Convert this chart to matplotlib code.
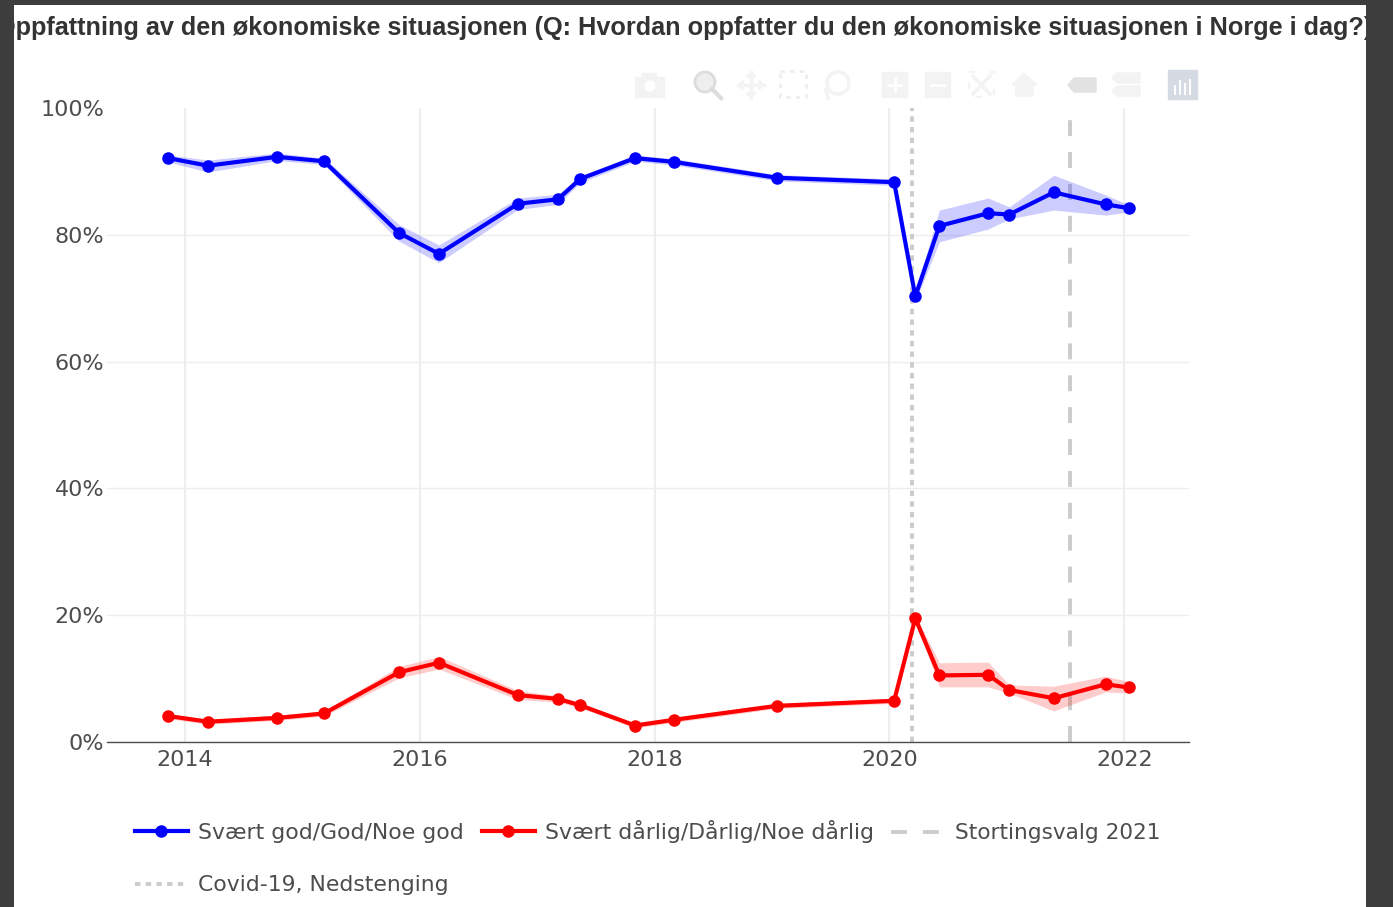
import matplotlib
matplotlib.use('Agg')
import matplotlib.pyplot as plt
from matplotlib.patches import Rectangle, Circle, Polygon
from matplotlib.lines import Line2D

# survey dates as decimal years
dates = [2013.855, 2014.196, 2014.784, 2015.184, 2015.823, 2016.163, 2016.836, 2017.177, 2017.365, 2017.833,
         2018.165, 2019.04, 2020.04, 2020.22, 2020.425, 2020.84, 2021.02, 2021.40, 2021.84, 2022.04]

good = [92.1, 90.9, 92.3, 91.6, 80.3, 77.0, 84.9, 85.6, 88.8, 92.1,
        91.5, 89.0, 88.3, 70.3, 81.4, 83.4, 83.2, 86.7, 84.8, 84.2]
good_hi = [92.6, 91.8, 92.9, 92.1, 81.6, 78.4, 85.8, 86.4, 89.3, 92.6,
           92.0, 89.5, 88.8, 71.0, 83.9, 85.8, 84.4, 89.4, 86.3, 84.7]
good_lo = [91.5, 89.9, 91.7, 91.1, 79.0, 75.6, 84.0, 84.8, 88.2, 91.6,
           91.0, 88.5, 87.8, 69.5, 78.9, 80.9, 82.5, 83.9, 83.1, 83.6]

bad = [4.1, 3.2, 3.8, 4.5, 11.0, 12.5, 7.4, 6.8, 5.8, 2.6,
       3.5, 5.7, 6.5, 19.5, 10.5, 10.6, 8.2, 6.9, 9.1, 8.6]
bad_hi = [4.5, 3.6, 4.2, 4.9, 11.9, 13.5, 8.1, 7.3, 6.2, 3.0,
          3.9, 6.1, 6.9, 20.0, 12.5, 12.6, 9.0, 8.8, 10.4, 9.5]
bad_lo = [3.7, 2.8, 3.4, 4.1, 10.1, 11.5, 6.7, 6.3, 5.4, 2.2,
          3.1, 5.3, 6.1, 19.0, 8.7, 8.7, 7.7, 4.9, 7.9, 7.7]

covid_date = 2020.195
election_date = 2021.535

year_ticks = [2014, 2016, 2018, 2020, 2022]
pct_ticks = [0, 20, 40, 60, 80, 100]

title = 'Oppfattning av den økonomiske situasjonen (Q: Hvordan oppfatter du den økonomiske situasjonen i Norge i dag?)'
label_good = 'Svært god/God/Noe god'
label_bad = 'Svært dårlig/Dårlig/Noe dårlig'
label_election = 'Stortingsvalg 2021'
label_covid = 'Covid-19, Nedstenging'

W, H = 1393, 907
GREY = '#4d4d4d'
VLINE = '#cccccc'
LW = 3.0
MS = 8
DASH = (4.1, 4.1)
DOT = (1.4, 1.35)

fig = plt.figure(figsize=(W / 100, H / 100), dpi=100, facecolor='#3d3d3d')

# white page behind the plot, in pixel coordinates
bg = fig.add_axes([0, 0, 1, 1], zorder=0)
bg.set_xlim(0, W)
bg.set_ylim(H, 0)
bg.axis('off')
panel = Rectangle((14, 5), 1352, 902, facecolor='white', edgecolor='none')
bg.add_patch(panel)

# plot area
ax = fig.add_axes([107 / W, 1 - 742 / H, (1189 - 107) / W, (742 - 108) / H], zorder=1)
ax.patch.set_alpha(0)
ax.set_xlim(2013.336, 2022.551)
ax.set_ylim(0, 100)
for s in ['top', 'left', 'right']:
    ax.spines[s].set_visible(False)
ax.spines['bottom'].set_color(GREY)
ax.spines['bottom'].set_linewidth(1)
ax.set_axisbelow(True)
ax.xaxis.grid(True, color='#eeeeee', linewidth=1.5)
ax.yaxis.grid(True, color='#eeeeee', linewidth=1.0)
ax.set_xticks(year_ticks)
ax.set_yticks(pct_ticks)
ax.set_yticklabels([f'{p}%' for p in pct_ticks])
ax.tick_params(length=0, labelsize=16, labelcolor=GREY)
ax.tick_params(axis='y', pad=2)
ax.tick_params(axis='x', pad=6)
ax.yaxis.get_gridlines()[-1].set_visible(False)

ax.axvline(covid_date, color=VLINE, linewidth=2.8, dashes=DOT, zorder=1)
ax.axvline(election_date, color=VLINE, linewidth=2.8, dashes=DASH, zorder=1)

ax.fill_between(dates, good_lo, good_hi, color='blue', alpha=0.2, linewidth=0, zorder=2)
ax.fill_between(dates, bad_lo, bad_hi, color='red', alpha=0.2, linewidth=0, zorder=2)
ax.plot(dates, good, color='blue', linewidth=LW, marker='o', markersize=MS, zorder=3, clip_on=False)
ax.plot(dates, bad, color='red', linewidth=LW, marker='o', markersize=MS, zorder=3, clip_on=False)

# overlay for title, legend and the faded toolbar
ov = fig.add_axes([0, 0, 1, 1], zorder=2)
ov.set_xlim(0, W)
ov.set_ylim(H, 0)
ov.axis('off')
ov.patch.set_alpha(0)

t = ov.text(684.5, 28, title, ha='center', va='center', fontsize=18.2, fontweight='bold',
            family='Liberation Sans', color='#333333', clip_on=True)
t.set_clip_path(panel)

# legend
ov.add_line(Line2D([135, 188], [831, 831], color='blue', linewidth=LW))
ov.add_line(Line2D([161], [831], color='blue', marker='o', markersize=MS))
ov.text(198, 839, label_good, va='baseline', fontsize=15.75, color=GREY)
ov.add_line(Line2D([482, 535], [831, 831], color='red', linewidth=LW))
ov.add_line(Line2D([508], [831], color='red', marker='o', markersize=MS))
ov.text(545, 839, label_bad, va='baseline', fontsize=15.75, color=GREY)
ov.add_line(Line2D([891, 944], [832, 832], color=VLINE, linewidth=2.8, dashes=DASH))
ov.text(955, 839, label_election, va='baseline', fontsize=15.6, color=GREY)
ov.add_line(Line2D([135, 188], [884, 884], color=VLINE, linewidth=2.8, dashes=DOT))
ov.text(198, 891, label_covid, va='baseline', fontsize=15.75, color=GREY)

# toolbar icons
ICON = '#f3f3f3'
ov.add_patch(Rectangle((635, 77), 29, 20, color=ICON))
ov.add_patch(Rectangle((642, 73), 14, 5, color=ICON))
ov.add_patch(Circle((650, 86), 5, color='white'))
ov.add_patch(Circle((705, 82), 10, facecolor='#eeeeee', edgecolor='#dcdcdc', linewidth=2))
ov.add_line(Line2D([712, 721], [89, 98], color='#dcdcdc', linewidth=3))
ov.add_line(Line2D([738, 764], [85, 85], color=ICON, linewidth=2.5))
ov.add_line(Line2D([751, 751], [72, 98], color=ICON, linewidth=2.5))
for (px, py), (a, b) in [((738, 85), (5, 5)), ((764, 85), (-5, 5)), ((751, 72), (5, 5)), ((751, 98), (5, -5))]:
    if py == 85:
        ov.add_patch(Polygon([(px, py), (px + a, py - b), (px + a, py + b)], color=ICON))
    else:
        ov.add_patch(Polygon([(px, py), (px - a, py + b), (px + a, py + b)], color=ICON))
ov.add_patch(Rectangle((780, 71), 26, 26, fill=False, edgecolor='#eeeeee', linewidth=2, linestyle=(0, (1.5, 2))))
ov.add_patch(Circle((838, 83), 11, fill=False, edgecolor=ICON, linewidth=2.5))
ov.add_line(Line2D([826, 828], [90, 98], color=ICON, linewidth=2.5))
for cx in [894, 937]:
    ov.add_patch(Rectangle((cx - 12, 72), 25, 25, color=ICON))
    ov.add_line(Line2D([cx - 6, cx + 7], [85, 85], color='white', linewidth=2))
ov.add_line(Line2D([894.5, 894.5], [78, 91], color='white', linewidth=2))
ov.add_patch(Rectangle((969, 72), 25, 25, fill=False, edgecolor=ICON, linewidth=1.5, linestyle=(0, (3, 7))))
ov.add_line(Line2D([973, 990], [76, 94], color=ICON, linewidth=2.5))
ov.add_line(Line2D([990, 973], [76, 94], color=ICON, linewidth=2.5))
ov.add_patch(Polygon([(1012, 85), (1024, 73), (1037, 85), (1033, 85), (1033, 96), (1016, 96), (1016, 85)], color=ICON))
ov.add_patch(Polygon([(1068, 85), (1074, 78), (1096, 78), (1096, 92), (1074, 92)], color='#e2e2e2'))
for top in [73, 86]:
    ov.add_patch(Polygon([(1112, top + 5), (1117, top), (1140, top), (1140, top + 10), (1117, top + 10)], color=ICON))
ov.add_patch(Rectangle((1168, 70), 29, 29, color='#d6dae3'))
for bx, bh in [(1175, 8), (1180, 13), (1185, 10), (1190, 14)]:
    ov.add_line(Line2D([bx, bx], [94, 94 - bh], color='white', linewidth=1.4))

fig.savefig('out.png', dpi=100, facecolor=fig.get_facecolor())
